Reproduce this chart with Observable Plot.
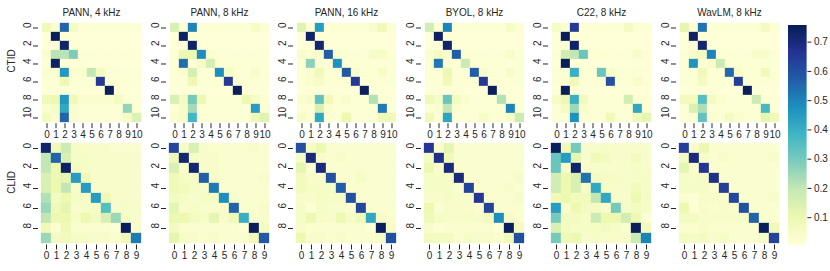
<!DOCTYPE html>
<html><head><meta charset="utf-8">
<script src="https://cdn.jsdelivr.net/npm/d3@7"></script>
<script src="https://cdn.jsdelivr.net/npm/@observablehq/plot@0.6"></script>
<style>
body{margin:0;background:#fff;}
#fig{position:relative;width:830px;height:271px;overflow:hidden;font-family:"Liberation Sans",Arial,sans-serif;background:#fff;}
#fig svg{position:absolute;}
</style></head><body><div id="fig"></div>
<script>
const titles = ["PANN, 4 kHz","PANN, 8 kHz","PANN, 16 kHz","BYOL, 8 kHz","C22, 8 kHz","WavLM, 8 kHz"];
const rowLabels = ["CTID","CLID"];
const ctidClasses = [0,1,2,3,4,5,6,7,8,9,10];
const clidClasses = [0,1,2,3,4,5,6,7,8,9];
const colorbarTicks = [0.1,0.2,0.3,0.4,0.5,0.6,0.7];

const ctid_pann4 = [
[.08,.03,.56,.06,.02,.02,.02,.02,.02,.02,.02],
[.01,.75,.01,.01,.01,.01,.01,.01,.01,.01,.01],
[.01,.01,.73,.02,.01,.01,.01,.01,.01,.01,.01],
[.03,.21,.21,.29,.02,.02,.02,.02,.02,.02,.02],
[.01,.74,.01,.01,.02,.01,.01,.01,.01,.01,.01],
[.03,.03,.46,.03,.03,.20,.06,.02,.02,.02,.02],
[.02,.02,.10,.02,.02,.02,.65,.02,.02,.02,.02],
[.01,.01,.01,.01,.01,.01,.01,.75,.01,.01,.01],
[.08,.10,.46,.08,.03,.03,.03,.03,.06,.02,.02],
[.03,.05,.42,.03,.02,.02,.02,.02,.02,.26,.02],
[.06,.03,.56,.03,.02,.02,.02,.02,.02,.05,.14]];
const ctid_pann8 = [
[.15,.02,.50,.02,.02,.02,.02,.02,.02,.05,.02],
[.01,.74,.01,.01,.01,.01,.01,.01,.01,.01,.01],
[.01,.01,.73,.01,.01,.01,.01,.01,.01,.01,.01],
[.02,.10,.10,.48,.03,.02,.02,.02,.02,.02,.02],
[.02,.54,.01,.05,.16,.02,.02,.02,.02,.02,.02],
[.02,.03,.16,.02,.02,.48,.05,.02,.02,.04,.02],
[.02,.02,.10,.02,.02,.02,.65,.02,.02,.02,.02],
[.01,.01,.01,.01,.01,.01,.01,.75,.01,.01,.01],
[.15,.06,.30,.10,.02,.02,.02,.02,.10,.05,.02],
[.02,.05,.24,.02,.02,.02,.02,.02,.02,.45,.02],
[.03,.05,.38,.02,.02,.02,.02,.02,.02,.09,.13]];
const ctid_pann16 = [
[.13,.02,.45,.02,.02,.02,.02,.02,.04,.08,.02],
[.01,.73,.01,.01,.01,.01,.01,.01,.01,.01,.01],
[.01,.01,.72,.01,.01,.01,.01,.01,.01,.01,.01],
[.04,.03,.04,.57,.03,.02,.02,.02,.05,.05,.02],
[.02,.27,.02,.02,.47,.02,.02,.02,.02,.02,.02],
[.02,.03,.08,.02,.02,.58,.04,.02,.02,.05,.02],
[.02,.03,.05,.02,.02,.02,.65,.02,.02,.02,.02],
[.01,.01,.01,.01,.01,.01,.01,.75,.01,.01,.01],
[.03,.04,.33,.08,.02,.04,.02,.02,.22,.02,.02],
[.02,.02,.15,.03,.02,.02,.02,.02,.02,.52,.02],
[.05,.02,.42,.02,.02,.10,.02,.02,.02,.08,.08]];
const ctid_byol = [
[.17,.02,.50,.02,.02,.02,.02,.02,.02,.05,.02],
[.01,.74,.01,.01,.01,.01,.01,.01,.01,.01,.01],
[.01,.01,.73,.01,.01,.01,.01,.01,.01,.01,.01],
[.03,.06,.04,.57,.02,.02,.02,.02,.02,.04,.02],
[.02,.52,.02,.02,.18,.02,.02,.02,.02,.02,.02],
[.02,.02,.10,.02,.02,.57,.04,.02,.02,.04,.02],
[.02,.02,.08,.02,.02,.02,.65,.02,.02,.02,.02],
[.01,.01,.01,.01,.01,.01,.01,.75,.01,.01,.01],
[.08,.05,.32,.06,.03,.02,.02,.02,.22,.02,.02],
[.02,.03,.20,.03,.02,.02,.02,.02,.02,.50,.02],
[.08,.02,.43,.02,.02,.02,.05,.02,.02,.05,.18]];
const ctid_c22 = [
[.05,.02,.65,.02,.02,.02,.02,.02,.06,.02,.02],
[.01,.75,.01,.01,.01,.01,.01,.01,.01,.01,.01],
[.01,.01,.73,.01,.01,.01,.01,.01,.01,.01,.01],
[.02,.17,.20,.32,.02,.02,.02,.02,.02,.04,.02],
[.01,.75,.01,.01,.01,.01,.01,.01,.01,.01,.01],
[.02,.02,.40,.02,.02,.32,.04,.02,.02,.02,.02],
[.02,.02,.08,.02,.02,.02,.60,.02,.02,.04,.02],
[.01,.75,.01,.01,.01,.01,.01,.01,.01,.01,.01],
[.05,.10,.40,.07,.02,.02,.02,.02,.17,.02,.02],
[.02,.06,.25,.04,.02,.02,.02,.02,.02,.42,.02],
[.02,.02,.47,.02,.02,.02,.08,.02,.02,.08,.12]];
const ctid_wavlm = [
[.12,.02,.53,.02,.02,.02,.02,.02,.02,.06,.02],
[.01,.74,.01,.01,.01,.01,.01,.01,.01,.01,.01],
[.01,.01,.72,.01,.01,.01,.01,.01,.01,.01,.01],
[.02,.04,.06,.50,.02,.02,.02,.02,.04,.04,.02],
[.02,.47,.02,.04,.18,.02,.02,.02,.02,.02,.02],
[.02,.02,.08,.02,.02,.55,.04,.02,.02,.08,.02],
[.02,.02,.06,.02,.02,.02,.64,.02,.02,.02,.02],
[.01,.01,.01,.01,.01,.01,.01,.75,.01,.01,.01],
[.07,.07,.35,.06,.03,.02,.02,.02,.18,.02,.02],
[.02,.15,.23,.02,.02,.02,.02,.02,.02,.37,.02],
[.02,.02,.33,.03,.02,.06,.03,.02,.02,.12,.08]];

const clid_pann4 = [
[.73,.08,.18,.05,.04,.04,.04,.03,.03,.03],
[.20,.56,.15,.05,.05,.04,.04,.04,.04,.04],
[.20,.10,.74,.06,.05,.04,.04,.04,.04,.04],
[.15,.10,.12,.45,.08,.04,.04,.04,.04,.04],
[.15,.10,.20,.04,.45,.04,.04,.04,.04,.04],
[.22,.06,.10,.05,.05,.45,.08,.04,.04,.04],
[.25,.08,.12,.04,.05,.05,.35,.04,.05,.04],
[.20,.10,.10,.05,.10,.06,.15,.25,.05,.04],
[.08,.03,.08,.03,.03,.03,.03,.02,.75,.04],
[.25,.06,.07,.05,.05,.04,.04,.03,.08,.52]];
const clid_pann8 = [
[.62,.05,.15,.04,.03,.03,.03,.03,.04,.03],
[.08,.72,.05,.04,.04,.03,.03,.03,.03,.03],
[.15,.04,.72,.04,.04,.03,.03,.03,.03,.03],
[.08,.05,.05,.57,.04,.03,.03,.03,.03,.04],
[.08,.07,.05,.04,.52,.03,.03,.03,.03,.03],
[.06,.05,.04,.05,.05,.48,.04,.03,.03,.03],
[.12,.04,.05,.04,.04,.04,.56,.03,.03,.04],
[.10,.10,.06,.05,.12,.04,.08,.40,.03,.04],
[.06,.03,.03,.03,.03,.03,.03,.02,.75,.06],
[.12,.05,.04,.03,.04,.03,.03,.03,.08,.58]];
const clid_pann16 = [
[.60,.05,.10,.03,.03,.03,.03,.03,.03,.03],
[.05,.70,.04,.03,.04,.03,.03,.03,.03,.03],
[.12,.03,.70,.03,.03,.03,.03,.03,.03,.03],
[.07,.04,.04,.60,.03,.03,.05,.03,.03,.03],
[.07,.05,.05,.05,.57,.03,.03,.03,.03,.03],
[.04,.04,.05,.05,.05,.60,.03,.03,.03,.03],
[.05,.02,.05,.04,.04,.03,.62,.03,.03,.03],
[.05,.10,.05,.04,.10,.05,.08,.42,.05,.03],
[.04,.03,.03,.03,.03,.03,.03,.02,.75,.05],
[.10,.04,.04,.03,.04,.03,.03,.03,.05,.60]];
const clid_byol = [
[.66,.04,.12,.03,.03,.03,.03,.03,.03,.03],
[.06,.68,.08,.03,.03,.03,.03,.03,.03,.03],
[.10,.04,.70,.03,.03,.03,.03,.03,.03,.03],
[.05,.05,.05,.70,.03,.03,.03,.03,.03,.04],
[.05,.05,.05,.03,.63,.03,.03,.03,.04,.03],
[.04,.04,.05,.04,.04,.66,.03,.03,.03,.04],
[.10,.03,.04,.04,.04,.03,.63,.03,.03,.03],
[.08,.05,.04,.04,.05,.04,.07,.48,.05,.03],
[.04,.02,.03,.03,.03,.03,.03,.02,.75,.06],
[.07,.06,.06,.03,.05,.04,.04,.03,.08,.60]];
const clid_c22 = [
[.75,.08,.30,.04,.04,.05,.04,.04,.04,.04],
[.32,.45,.12,.04,.08,.06,.04,.04,.07,.04],
[.32,.04,.73,.04,.04,.04,.04,.04,.05,.04],
[.17,.10,.15,.53,.06,.05,.05,.04,.05,.05],
[.17,.10,.15,.05,.42,.05,.04,.04,.07,.05],
[.08,.10,.07,.07,.20,.42,.04,.04,.10,.05],
[.45,.04,.10,.06,.06,.04,.30,.04,.06,.05],
[.30,.06,.06,.05,.18,.10,.10,.17,.10,.02],
[.15,.06,.05,.05,.05,.06,.05,.03,.75,.07],
[.30,.08,.10,.04,.05,.04,.04,.04,.18,.50]];
const clid_wavlm = [
[.64,.04,.10,.03,.03,.03,.03,.03,.03,.03],
[.06,.70,.04,.03,.04,.03,.03,.03,.03,.04],
[.12,.03,.66,.03,.03,.03,.03,.03,.03,.03],
[.05,.04,.05,.68,.03,.03,.03,.03,.03,.03],
[.05,.05,.05,.03,.64,.03,.03,.03,.03,.03],
[.03,.02,.04,.04,.04,.62,.03,.03,.03,.04],
[.10,.02,.04,.03,.04,.03,.60,.03,.03,.03],
[.06,.06,.04,.04,.04,.04,.05,.56,.03,.03],
[.03,.03,.04,.03,.03,.03,.03,.03,.75,.08],
[.06,.05,.06,.04,.05,.03,.03,.03,.05,.63]];

const ctidMatrices = [ctid_pann4, ctid_pann8, ctid_pann16, ctid_byol, ctid_c22, ctid_wavlm];
const clidMatrices = [clid_pann4, clid_pann8, clid_pann16, clid_byol, clid_c22, clid_wavlm];

// style / layout
const vmin = 0.005, vmax = 0.757;
const ylgnbu = ["#ffffd9","#edf8b1","#c7e9b4","#7fcdbb","#41b6c4","#1d91c0","#225ea8","#253494","#081d58"];
const colorScale = {type: "linear", domain: ylgnbu.map((_, k) => vmin + (vmax - vmin) * k / 8), range: ylgnbu, interpolate: "rgb"};
const ink = "#262626";
const FONT = "'Liberation Sans', Arial, sans-serif";
const colX = [38.4, 165.85, 293.3, 420.75, 548.2, 675.65];
const W = 106;
const rowY = [21.4, 142.2];
const rowH = [102.2, 102.5];
const ML = 40, MR = 8, MT = 22, MB = 24;
const fig = document.getElementById("fig");

function heat(matrix, classes, r, c) {
  const data = matrix.flatMap((row, i) => row.map((v, j) => ({i, j, v})));
  const yTicks = classes.filter(d => d % 2 === 0);
  const marks = [
    Plot.cell(data, {x: "j", y: "i", fill: "v", stroke: "v", strokeWidth: 0.3}),
    Plot.text(yTicks, {y: d => d, frameAnchor: "left", dx: -11, rotate: -90, fontSize: 10, fill: ink})
  ];
  if (r === 0) marks.push(Plot.text([titles[c]], {frameAnchor: "top", dy: -8.7, lineAnchor: "middle", fontSize: 10, fill: ink}));
  if (c === 0) marks.push(Plot.text([rowLabels[r]], {frameAnchor: "left", dx: -(colX[0] - 11.7), rotate: -90, fontSize: 10, fill: ink}));
  const svg = Plot.plot({
    width: ML + W + MR, height: MT + rowH[r] + MB,
    marginLeft: ML, marginRight: MR, marginTop: MT, marginBottom: MB,
    style: {background: "transparent", overflow: "visible", fontFamily: FONT, fontSize: "10px", color: ink},
    x: {type: "band", domain: classes, padding: 0, tickSize: 5, tickPadding: 2, label: null, axis: "bottom"},
    y: {type: "band", domain: classes, padding: 0, ticks: yTicks, tickSize: 5, tickFormat: () => "", label: null},
    color: colorScale,
    marks
  });
  svg.style.left = (colX[c] - ML) + "px";
  svg.style.top = (rowY[r] - MT) + "px";
  fig.appendChild(svg);
}

ctidMatrices.forEach((m, c) => heat(m, ctidClasses, 0, c));
clidMatrices.forEach((m, c) => heat(m, clidClasses, 1, c));

// colorbar
const cbX = 788.3, cbW = 18.4, cbTop = 25, cbBottom = 245;
const N = 240, dv = (vmax - vmin) / N;
const levels = d3.range(N).map(k => vmin + k * dv);
const CMR = 30;
const cb = Plot.plot({
  width: cbW + CMR, height: (cbBottom - cbTop) + 20,
  marginLeft: 0, marginRight: CMR, marginTop: 10, marginBottom: 10,
  style: {background: "transparent", overflow: "visible", fontFamily: FONT, fontSize: "10px", color: ink},
  x: {domain: [0, 1], axis: null},
  y: {domain: [vmin, vmax], axis: "right", ticks: colorbarTicks, tickSize: 4, tickPadding: 3, tickFormat: d3.format(".1f"), label: null},
  color: colorScale,
  marks: [
    Plot.rect(levels, {x1: 0, x2: 1, y1: d => d, y2: d => Math.min(d + 2 * dv, vmax), fill: d => d + dv / 2})
  ]
});
cb.style.left = cbX + "px";
cb.style.top = (cbTop - 10) + "px";
fig.appendChild(cb);
</script></body></html>
